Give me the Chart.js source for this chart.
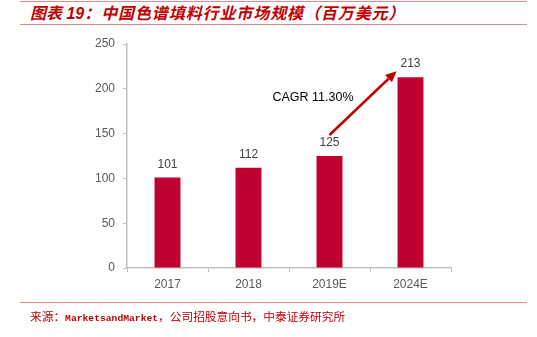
<!DOCTYPE html>
<html><head><meta charset="utf-8">
<script src="https://cdn.jsdelivr.net/npm/chart.js@4.4.1/dist/chart.umd.min.js"></script>
<style>
html,body{margin:0;padding:0;background:#fff;width:537px;height:337px;overflow:hidden;position:relative}
#c{position:absolute;left:0;top:0}
.line{position:absolute;left:20px;width:507px;height:0;border-top:1.5px solid #e08a8c}
#title{position:absolute;left:30px;top:4px;font-family:"Liberation Sans","Noto Sans CJK SC",sans-serif;font-size:16px;font-weight:bold;font-style:italic;color:#c00000;white-space:nowrap;line-height:19px;letter-spacing:0.9px}
#title .lat{letter-spacing:0}
#src{position:absolute;left:30px;top:309px;font-family:"Noto Sans CJK SC",sans-serif;font-size:11.7px;color:#c00000;white-space:nowrap;line-height:14px}
#src .lat{font-family:"Liberation Mono",monospace;font-size:9.7px;font-weight:bold}
</style></head>
<body>
<div class="line" style="top:1px"></div>
<div id="title"><span class="lat">图表 19</span>：中国色谱填料行业市场规模（百万美元）</div>
<div class="line" style="top:24px"></div>
<canvas id="c" width="537" height="337"></canvas>
<div class="line" style="top:302px"></div>
<div id="src">来源：<span class="lat">MarketsandMarket</span>，公司招股意向书，中泰证券研究所</div>
<script>
const categories = ["2017", "2018", "2019E", "2024E"];
const marketSize = [101, 112, 125, 213];
const yTicks = [0, 50, 100, 150, 200, 250];
const cagrLabel = "CAGR 11.30%";

const overlay = {
  id: 'overlay',
  afterDatasetsDraw(chart) {
    const ctx = chart.ctx;
    const x = chart.scales.x, y = chart.scales.y;
    const meta = chart.getDatasetMeta(0);
    ctx.save();
    ctx.fillStyle = '#404040';
    ctx.font = '12px "Liberation Sans", Arial, sans-serif';
    ctx.textAlign = 'center';
    ctx.textBaseline = 'bottom';
    meta.data.forEach((bar, i) => {
      ctx.fillText(String(marketSize[i]), bar.x, bar.y - 7);
    });
    // arrow from 2019E to 2024E
    const x0 = x.getPixelForValue(2), y0 = y.getPixelForValue(marketSize[2]) - 21;
    const x1 = x.getPixelForValue(3) - 14, y1 = y.getPixelForValue(marketSize[3]) - 6;
    const ang = Math.atan2(y1 - y0, x1 - x0);
    const hl = 11, hw = 5;
    const bx = x1 - hl * Math.cos(ang), by = y1 - hl * Math.sin(ang);
    ctx.strokeStyle = '#c00000';
    ctx.fillStyle = '#c00000';
    ctx.lineWidth = 2.5;
    ctx.beginPath();
    ctx.moveTo(x0, y0);
    ctx.lineTo(bx, by);
    ctx.stroke();
    ctx.beginPath();
    ctx.moveTo(x1, y1);
    ctx.lineTo(bx + hw * Math.sin(ang), by - hw * Math.cos(ang));
    ctx.lineTo(bx - hw * Math.sin(ang), by + hw * Math.cos(ang));
    ctx.closePath();
    ctx.fill();
    ctx.fillStyle = '#000';
    ctx.font = '12.5px "Liberation Sans", Arial, sans-serif';
    ctx.textAlign = 'left';
    ctx.textBaseline = 'middle';
    ctx.fillText(cagrLabel, x.getPixelForValue(1) + 24, y.getPixelForValue(190));
    ctx.restore();
  }
};

new Chart(document.getElementById('c'), {
  type: 'bar',
  data: {
    labels: categories,
    datasets: [{
      data: marketSize,
      backgroundColor: '#c00030',
      borderWidth: 0,
      categoryPercentage: 1,
      barPercentage: 0.32
    }]
  },
  options: {
    responsive: false,
    animation: false,
    events: [],
    layout: { padding: { left: 0, top: 44, right: 86, bottom: 0 } },
    plugins: { legend: { display: false }, tooltip: { enabled: false }, title: { display: false } },
    scales: {
      x: {
        afterFit(s) { s.height = 69; },
        grid: { display: true, drawOnChartArea: false, drawTicks: true, tickLength: 4, color: '#bfbfbf', offset: true },
        border: { color: '#bfbfbf', width: 1.5 },
        ticks: { color: '#595959', font: { family: '"Liberation Sans", Arial, sans-serif', size: 12 }, padding: 5 }
      },
      y: {
        min: 0, max: 250,
        afterFit(s) { s.width = 127; },
        afterBuildTicks(s) { s.ticks = yTicks.map(v => ({ value: v })); },
        grid: { display: true, drawOnChartArea: false, drawTicks: true, tickLength: 4, color: '#bfbfbf' },
        border: { color: '#bfbfbf', width: 1.5 },
        ticks: { color: '#595959', font: { family: '"Liberation Sans", Arial, sans-serif', size: 12 }, padding: 8 }
      }
    }
  },
  plugins: [overlay]
});
</script>
</body></html>
